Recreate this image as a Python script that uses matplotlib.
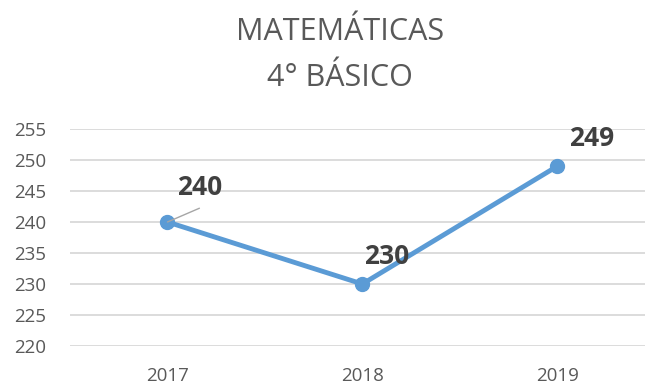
import matplotlib.pyplot as plt

# puntajes SIMCE matemáticas 4° básico
years = ["2017", "2018", "2019"]
scores = [240, 230, 249]
y_ticks = [220, 225, 230, 235, 240, 245, 250, 255]

# desplazamiento de cada etiqueta (puntos)
label_offsets = [(23, 24.5), (17.3, 20), (24.5, 20)]

plt.rcParams['font.family'] = ['Open Sans', 'DejaVu Sans']

fig = plt.figure(figsize=(6.45, 3.85), dpi=100)
ax = fig.add_axes([70 / 645, 1 - 346 / 385, 1 - 70 / 645, (346 - 129) / 385])

x = list(range(len(years)))
ax.plot(x, scores, color='#5B9BD5', lw=3.5, marker='o', ms=10, zorder=3,
        solid_capstyle='round')

for i, (xi, v) in enumerate(zip(x, scores)):
    dx, dy = label_offsets[i]
    kw = {}
    if i == 0:
        kw['arrowprops'] = dict(arrowstyle='-', color='#a6a6a6', lw=1,
                                shrinkA=0, shrinkB=0, relpos=(0.5, -0.25))
    ax.annotate(str(v), (xi, v), xytext=(dx, dy), textcoords='offset points',
                ha='center', va='center', fontsize=19, fontweight='bold',
                color='#404040', **kw)

ax.set_xlim(-0.5, 2.45)
ax.set_ylim(220, 255)
ax.set_yticks(y_ticks)
ax.set_xticks(x)
ax.set_xticklabels(years)
ax.grid(axis='y', color='#d9d9d9', lw=1.3)
ax.set_axisbelow(True)
for s in ax.spines.values():
    s.set_visible(False)
ax.tick_params(length=0, colors='#595959', labelsize=13.5)
ax.tick_params(axis='y', pad=17)
ax.tick_params(axis='x', pad=15)

# título en dos líneas
for line, base in [("MATEMÁTICAS", 40), ("4° BÁSICO", 86)]:
    fig.text(340 / 645, 1 - base / 385, line, ha='center', va='baseline',
             fontsize=22, color='#595959')

fig.savefig('out.png', dpi=100)
